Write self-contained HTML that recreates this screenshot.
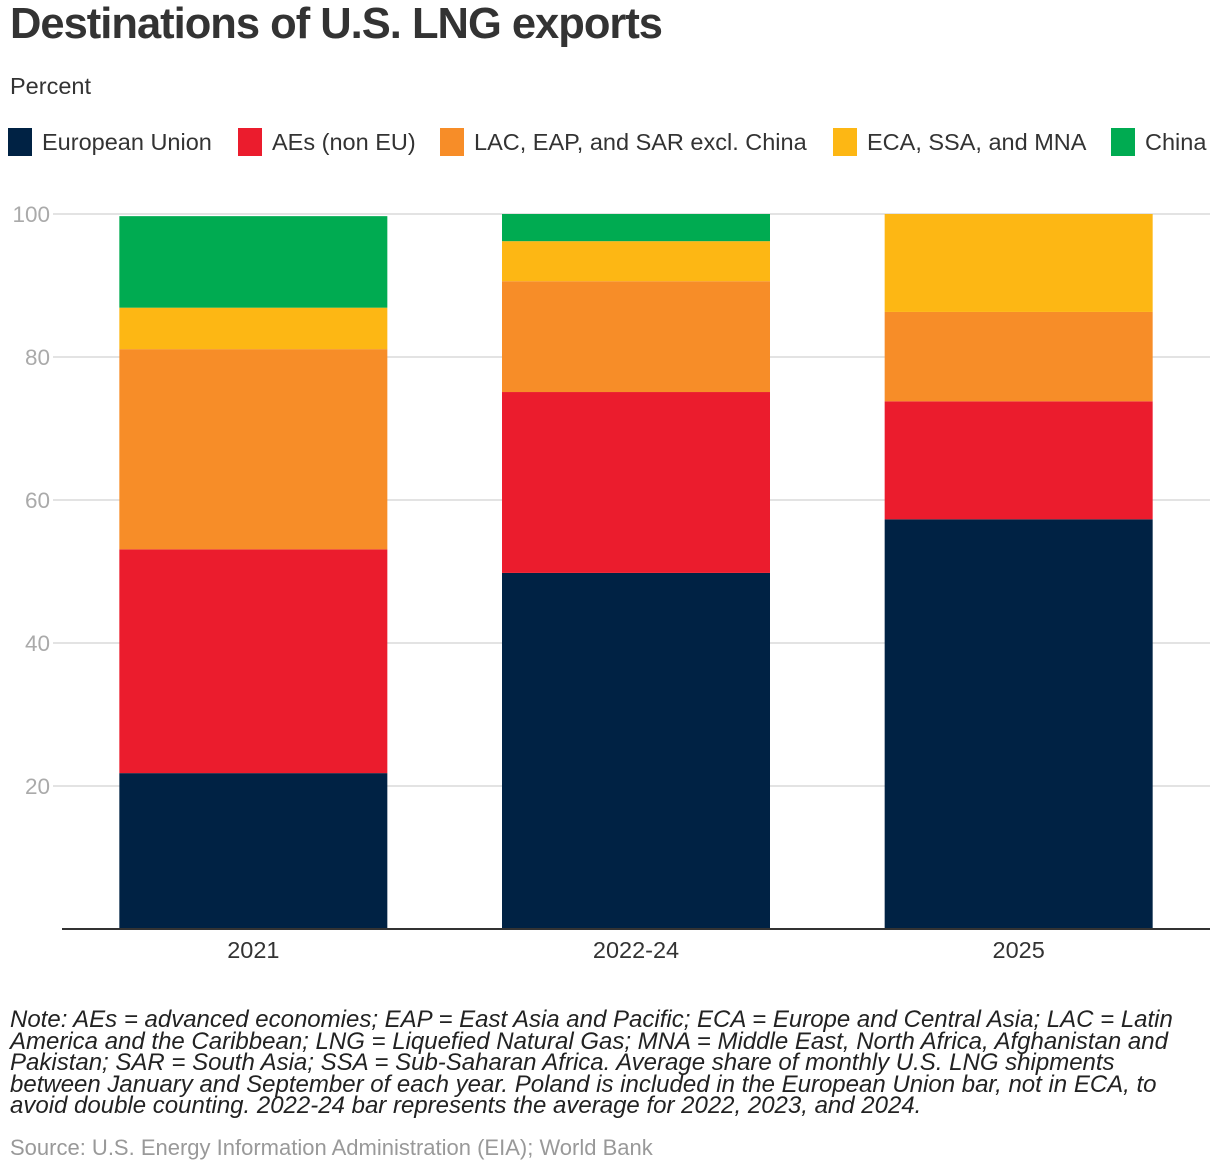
<!DOCTYPE html>
<html><head><meta charset="utf-8">
<style>
body{margin:0;width:1220px;height:1172px;background:#fff;font-family:"Liberation Sans",Arial,sans-serif;color:#333;position:relative;overflow:hidden}
.t{position:absolute;left:10px;top:0px;font-size:43.5px;font-weight:bold;letter-spacing:-1px;color:#333;white-space:nowrap}
.sub{position:absolute;left:10px;top:73px;font-size:23.5px}
.li{position:absolute;top:128px;height:28px;display:flex;align-items:center;font-size:23.5px;white-space:nowrap}
.sw{width:24px;height:28px;margin-right:10px}
.note{position:absolute;left:10px;top:1009px;width:1185px;font-size:24px;font-style:italic;line-height:21.5px;color:#222}
.src{position:absolute;left:10px;top:1135px;font-size:22px;color:#999;white-space:nowrap}
</style></head><body>
<div class="t">Destinations of U.S. LNG exports</div>
<div class="sub">Percent</div>
<div>
<div class="li" style="left:8px"><div class="sw" style="background:#002244"></div>European Union</div>
<div class="li" style="left:238px"><div class="sw" style="background:#eb1c2d"></div>AEs (non EU)</div>
<div class="li" style="left:440px"><div class="sw" style="background:#f78d28"></div>LAC, EAP, and SAR excl. China</div>
<div class="li" style="left:833px"><div class="sw" style="background:#fdb714"></div>ECA, SSA, and MNA</div>
<div class="li" style="left:1111px"><div class="sw" style="background:#00ab51"></div>China</div>
</div>
<svg id="c" width="1220" height="1000" style="position:absolute;left:0;top:0"></svg>
<div class="note">Note: AEs = advanced economies; EAP = East Asia and Pacific; ECA = Europe and Central Asia; LAC = Latin America and the Caribbean; LNG = Liquefied Natural Gas; MNA = Middle East, North Africa, Afghanistan and Pakistan; SAR = South Asia; SSA = Sub-Saharan Africa. Average share of monthly U.S. LNG shipments between January and September of each year. Poland is included in the European Union bar, not in ECA, to avoid double counting. 2022-24 bar represents the average for 2022, 2023, and 2024.</div>
<div class="src">Source: U.S. Energy Information Administration (EIA); World Bank</div>
<script>
const categories=["2021","2022-24","2025"];
const euVals=[21.8,49.8,57.3];
const aesVals=[31.3,25.3,16.5];
const lacVals=[28.0,15.5,12.5];
const ecaVals=[5.8,5.6,13.7];
const chinaVals=[12.8,3.8,0];
const yTicks=[20,40,60,80,100];
const series=[["eu",euVals,"#002244"],["aes",aesVals,"#eb1c2d"],["lac",lacVals,"#f78d28"],["eca",ecaVals,"#fdb714"],["china",chinaVals,"#00ab51"]];
const svg=document.getElementById('c');const NS="http://www.w3.org/2000/svg";
const x0=62,x1=1210,y0=929,pxu=7.15;
const y=v=>y0-v*pxu;
const band=(x1-x0)/categories.length,bw=268;
function mk(t,a){const e=document.createElementNS(NS,t);for(const k in a)e.setAttribute(k,a[k]);svg.appendChild(e);return e;}
yTicks.forEach(t=>{
const g=mk('line',{x1:53,x2:x1,y1:y(t),y2:y(t),stroke:'#e3e3e3','stroke-width':2});


const l=mk('text',{x:50,y:y(t)+8,'text-anchor':'end','font-size':22.5,fill:'#aaa','font-family':'Liberation Sans, Arial, sans-serif'});
l.textContent=t;


});
categories.forEach((c,i)=>{
const bx=x0+band*i+(band-bw)/2;let acc=0;
series.forEach(([n,vals,col])=>{
const v=vals[i];if(v>0){
const r=mk('rect',{x:bx,y:y(acc+v),width:bw,height:v*pxu,fill:col});

}
acc+=v;});
const l=mk('text',{x:bx+bw/2,y:958,'text-anchor':'middle','font-size':23.5,fill:'#333','font-family':'Liberation Sans, Arial, sans-serif'});
l.textContent=c;


});
const ax=mk('line',{x1:x0,x2:x1,y1:y0,y2:y0,stroke:'#333','stroke-width':2});


</script>
</body></html>
